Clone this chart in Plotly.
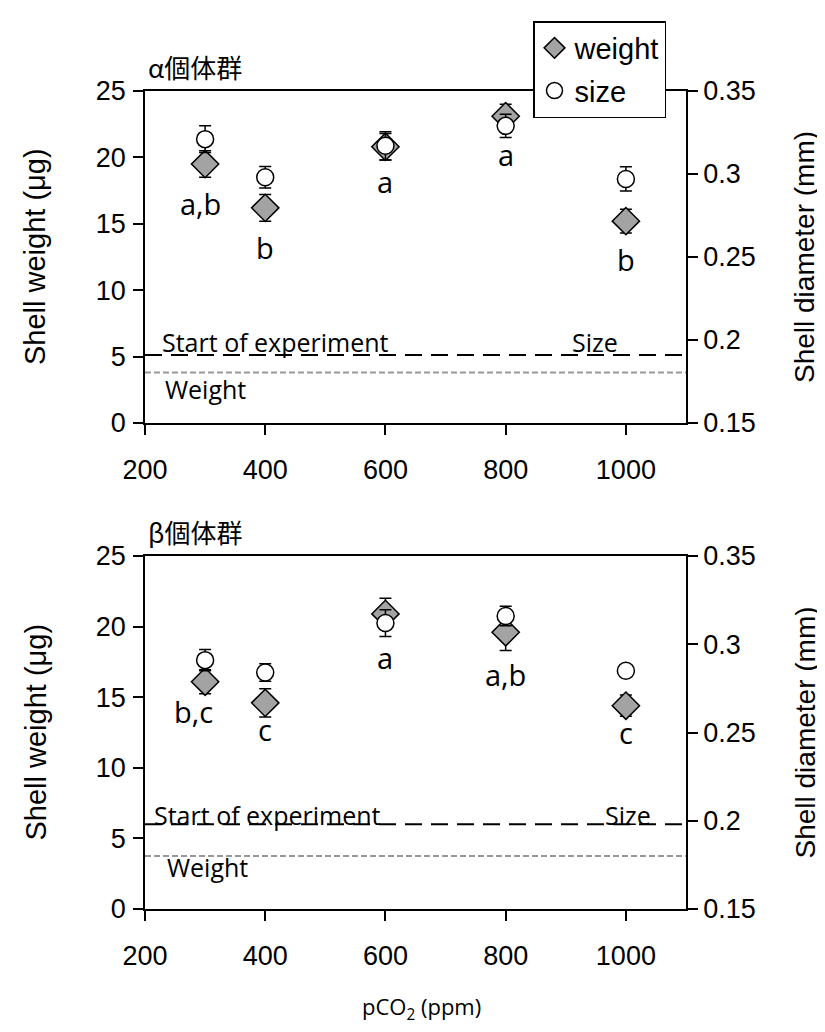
import plotly.graph_objects as go

# ---------------- data ----------------
pco2 = [300, 400, 600, 800, 1000]
x_range = [200, 1100]

alpha_weight = [19.5, 16.2, 20.8, 23.1, 15.2]
alpha_weight_err = [1.0, 1.0, 1.0, 0.9, 0.9]
alpha_size = [0.321, 0.298, 0.317, 0.329, 0.297]
alpha_size_err = [0.008, 0.0065, 0.0085, 0.007, 0.0073]
alpha_letters = ["a,b", "b", "a", "a", "b"]
alpha_letter_x = [293, 400, 600, 800, 1000]
alpha_letter_y = [16.5, 13.2, 18.2, 20.2, 12.3]

beta_weight = [16.1, 14.6, 20.9, 19.6, 14.4]
beta_weight_err = [0.85, 1.0, 1.1, 1.3, 0.75]
beta_size = [0.291, 0.284, 0.312, 0.316, 0.285]
beta_size_err = [0.006, 0.005, 0.0076, 0.0055, 0.003]
beta_letters = ["b,c", "c", "a", "a,b", "c"]
beta_letter_x = [280, 400, 600, 800, 1000]
beta_letter_y = [14.0, 12.7, 17.8, 16.6, 12.5]

start_size = [0.191, 0.198]      # start-of-experiment size (mm), alpha / beta
start_weight = [3.8, 3.75]       # start-of-experiment weight (ug), alpha / beta
panel_titles = ["α個体群", "β個体群"]

W, H = 825, 1032
def px(x):
    return x / W
def py(y):
    return 1 - y / H

GRAY = "#a3a3a3"
ARIAL = "Liberation Sans, Arial"
TICKFONT = dict(family=ARIAL, size=27, color="black")
CAL = "Open Sans, Lato, sans-serif"

fig = go.Figure()

panels = [
    dict(w=alpha_weight, we=alpha_weight_err, s=alpha_size, se=alpha_size_err,
         lt=alpha_letters, lx=alpha_letter_x, ly=alpha_letter_y,
         xa="x", ya="y", ya2="y2", legend=True,
         start_x=152, size_right=612, weight_x=155, text_shift=-6, weight_shift=3),
    dict(w=beta_weight, we=beta_weight_err, s=beta_size, se=beta_size_err,
         lt=beta_letters, lx=beta_letter_x, ly=beta_letter_y,
         xa="x2", ya="y3", ya2="y4", legend=False,
         start_x=144, size_right=645, weight_x=157, text_shift=-10, weight_shift=8),
]

for i, p in enumerate(panels):
    # reference lines (start of experiment)
    fig.add_trace(go.Scatter(x=x_range, y=[start_weight[i]] * 2, mode="lines",
                             line=dict(color="#999999", width=2, dash="6px,3px"),
                             xaxis=p["xa"], yaxis=p["ya"], showlegend=False, hoverinfo="skip"))
    fig.add_trace(go.Scatter(x=x_range, y=[start_size[i]] * 2, mode="lines",
                             line=dict(color="black", width=2, dash="17px,9px"),
                             xaxis=p["xa"], yaxis=p["ya2"], showlegend=False, hoverinfo="skip"))
    fig.add_trace(go.Scatter(
        x=pco2, y=p["w"], mode="markers", name="weight",
        error_y=dict(type="data", array=p["we"], color="black", thickness=1.5, width=6),
        marker=dict(symbol="diamond", size=21, color=GRAY, line=dict(color="black", width=1.5)),
        xaxis=p["xa"], yaxis=p["ya"], showlegend=p["legend"], legendgroup="w"))
    fig.add_trace(go.Scatter(
        x=pco2, y=p["s"], mode="markers", name="size",
        error_y=dict(type="data", array=p["se"], color="black", thickness=1.5, width=6),
        marker=dict(symbol="circle", size=17, color="white", line=dict(color="black", width=1.5)),
        xaxis=p["xa"], yaxis=p["ya2"], showlegend=p["legend"], legendgroup="s"))
    for t, lx, ly in zip(p["lt"], p["lx"], p["ly"]):
        fig.add_annotation(x=lx, y=ly, xref=p["xa"], yref=p["ya"], text=t, showarrow=False,
                           xanchor="center", yanchor="middle",
                           font=dict(family=CAL, size=29, color="black"))
    # line labels
    fig.add_annotation(x=px(p["start_x"]), y=start_size[i], xref="paper", yref=p["ya2"],
                       text="Start of experiment", showarrow=False, xanchor="left", yanchor="bottom",
                       font=dict(family=CAL, size=25, color="black"), yshift=p["text_shift"])
    fig.add_annotation(x=px(p["size_right"]), y=start_size[i], xref="paper", yref=p["ya2"],
                       text="Size", showarrow=False, xanchor="right", yanchor="bottom",
                       font=dict(family=CAL, size=25, color="black"), yshift=p["text_shift"])
    fig.add_annotation(x=px(p["weight_x"]), y=start_weight[i], xref="paper", yref=p["ya"],
                       text="Weight", showarrow=False, xanchor="left", yanchor="top",
                       font=dict(family=CAL, size=25, color="black"), yshift=p["weight_shift"])

# panel geometry (pixels)
top_panel = (83, 415)
bot_panel = (548, 901)
xdom = [px(137), px(678)]

axis_common = dict(showgrid=False, zeroline=False, showline=True, linecolor="black", linewidth=1.5,
                   ticks="outside", ticklen=10, tickwidth=1.5, tickcolor="black", tickfont=TICKFONT,
                   automargin=False)

fig.update_layout(
    width=W, height=H, margin=dict(l=0, r=0, t=0, b=0, autoexpand=False),
    paper_bgcolor="white", plot_bgcolor="white",
    xaxis=dict(domain=xdom, range=x_range, tick0=200, dtick=200, anchor="y", mirror=True,
               ticklabelstandoff=12, **axis_common),
    yaxis=dict(domain=[py(top_panel[1]), py(top_panel[0])], range=[0, 25], dtick=5, anchor="x",
               ticklabelstandoff=2, **axis_common),
    yaxis2=dict(range=[0.15, 0.35], tick0=0.15, dtick=0.05, overlaying="y", side="right", anchor="x",
                ticklabelstandoff=0, **axis_common),
    xaxis2=dict(domain=xdom, range=x_range, tick0=200, dtick=200, anchor="y3", mirror=True,
                ticklabelstandoff=12, **axis_common),
    yaxis3=dict(domain=[py(bot_panel[1]), py(bot_panel[0])], range=[0, 25], dtick=5, anchor="x2",
                ticklabelstandoff=2, **axis_common),
    yaxis4=dict(range=[0.15, 0.35], tick0=0.15, dtick=0.05, overlaying="y3", side="right", anchor="x2",
                ticklabelstandoff=0, **axis_common),
    legend=dict(x=px(525), y=py(13), xanchor="left", yanchor="top",
                bgcolor="white", bordercolor="black", borderwidth=1.5,
                font=dict(family=ARIAL, size=29, color="black"),
                traceorder="grouped", tracegroupgap=2, itemwidth=30),
    showlegend=True,
)

# panel titles
for title, (ytop, _) in zip(panel_titles, [top_panel, bot_panel]):
    fig.add_annotation(x=px(138), y=py(ytop - 4), xref="paper", yref="paper", text=title,
                       showarrow=False, xanchor="left", yanchor="bottom",
                       font=dict(family="Noto Sans CJK JP", size=26, color="black"))

# axis titles
for (y0, y1) in [top_panel, bot_panel]:
    yc = py((y0 + y1) / 2)
    fig.add_annotation(x=px(27), y=yc, xref="paper", yref="paper", text="Shell weight (μg)",
                       textangle=-90, showarrow=False, xanchor="center", yanchor="middle",
                       font=dict(family=ARIAL, size=29, color="black"))
    fig.add_annotation(x=px(797), y=yc, xref="paper", yref="paper", text="Shell diameter (mm)",
                       textangle=-90, showarrow=False, xanchor="center", yanchor="middle",
                       font=dict(family=ARIAL, size=28, color="black"))

fig.add_annotation(x=px(413), y=py(1000), xref="paper", yref="paper", text="pCO<sub>2</sub> (ppm)",
                   showarrow=False, xanchor="center", yanchor="middle",
                   font=dict(family=CAL, size=22, color="black"))

fig.write_html("out.html")
